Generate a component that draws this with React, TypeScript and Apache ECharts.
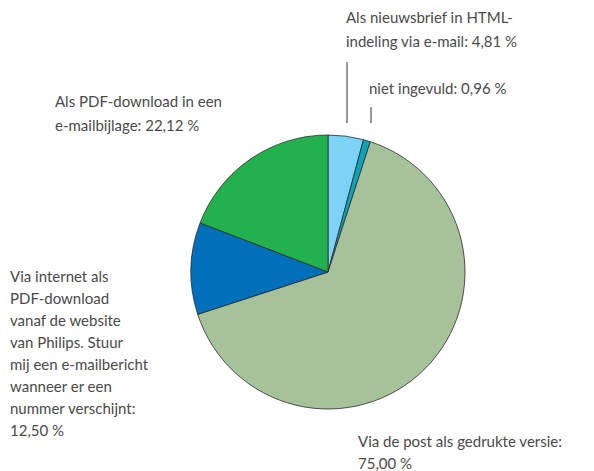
import React, { useEffect, useRef } from "react";
import * as echarts from "echarts";

const categories = [
  "Als nieuwsbrief in HTML-\nindeling via e-mail",
  "niet ingevuld",
  "Via de post als gedrukte versie",
  "Via internet als\nPDF-download\nvanaf de website\nvan Philips. Stuur\nmij een e-mailbericht\nwanneer er een\nnummer verschijnt",
  "Als PDF-download in een\ne-mailbijlage",
];
const values = [4.81, 0.96, 75.0, 12.5, 22.12];
const colors = ["#7dd3f5", "#0aa3b8", "#a6c29a", "#0070bb", "#23b14d"];
const breakBeforeValue = [false, false, true, true, false];

const fmt = (v: number) => v.toFixed(2).replace(".", ",") + " %";
const labelText = (i: number) =>
  categories[i] + ":" + (breakBeforeValue[i] ? "\n" : " ") + fmt(values[i]);

export default function App() {
  const ref = useRef<HTMLDivElement>(null);
  useEffect(() => {
    if (!ref.current) return;
    const chart = echarts.init(ref.current, null, { renderer: "svg" });
    const font = { fontFamily: "Lato", fontSize: 15, fill: "#4a4a4a" };
    const labelPos = [
      { x: 346, y: 5, lh: 24 },
      { x: 369, y: 76, lh: 24 },
      { x: 358, y: 430, lh: 22 },
      { x: 10, y: 265, lh: 22 },
      { x: 55, y: 89, lh: 24 },
    ];
    chart.setOption({
      animation: false,
      backgroundColor: "#ffffff",
      series: [
        {
          type: "pie",
          center: [328, 272],
          radius: 137,
          startAngle: 90,
          clockwise: true,
          label: { show: false },
          labelLine: { show: false },
          itemStyle: { borderColor: "#2a2a2a", borderWidth: 0.8 },
          emphasis: { disabled: true },
          data: values.map((v, i) => ({
            name: categories[i],
            value: v,
            itemStyle: { color: colors[i] },
          })),
        },
      ],
      graphic: [
        ...labelPos.map((p, i) => ({
          type: "text",
          left: p.x,
          top: p.y,
          style: {
            ...font,
            text: labelText(i),
            lineHeight: p.lh,
          },
        })),
        {
          type: "line",
          shape: { x1: 347, y1: 62, x2: 347, y2: 123 },
          style: { stroke: "#333", lineWidth: 1 },
        },
        {
          type: "line",
          shape: { x1: 371, y1: 107, x2: 371, y2: 123 },
          style: { stroke: "#333", lineWidth: 1 },
        },
      ],
    });
    return () => chart.dispose();
  }, []);
  return (
    <div
      ref={ref}
      style={{ position: "fixed", left: 0, top: 0, width: 594, height: 471 }}
    />
  );
}
